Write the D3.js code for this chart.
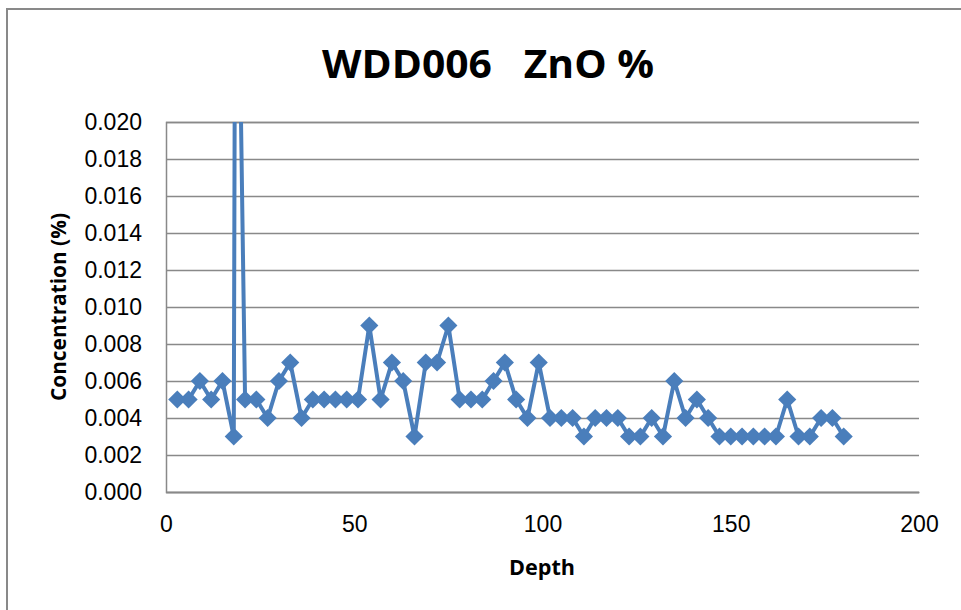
<!DOCTYPE html>
<html>
<head>
<meta charset="utf-8">
<script src="https://cdn.jsdelivr.net/npm/d3@7"></script>
<style>
  body { margin: 0; background: #fff; }
  svg { display: block; font-family: "Open Sans", "Noto Sans", sans-serif; }
</style>
</head>
<body>
<svg id="chart" width="961" height="610"></svg>
<script>
// depth (m) of each sample
const depths = [3, 6, 9, 12, 15, 18, 18.5, 21, 24, 27, 30, 33, 36, 39, 42, 45, 48, 51, 54, 57,
  60, 63, 66, 69, 72, 75, 78, 81, 84, 87, 90, 93, 96, 99, 102, 105, 108, 111, 114, 117,
  120, 123, 126, 129, 132, 135, 138, 141, 144, 147, 150, 153, 156, 159, 162, 165, 168, 171,
  174, 177, 180];
// ZnO concentration (%); the 18.5 m sample goes off the top of the axis
const zno = [0.005, 0.005, 0.006, 0.005, 0.006, 0.003, 0.040, 0.005, 0.005, 0.004, 0.006, 0.007,
  0.004, 0.005, 0.005, 0.005, 0.005, 0.005, 0.009, 0.005, 0.007, 0.006, 0.003, 0.007, 0.007,
  0.009, 0.005, 0.005, 0.005, 0.006, 0.007, 0.005, 0.004, 0.007, 0.004, 0.004, 0.004, 0.003,
  0.004, 0.004, 0.004, 0.003, 0.003, 0.004, 0.003, 0.006, 0.004, 0.005, 0.004, 0.003, 0.003,
  0.003, 0.003, 0.003, 0.003, 0.005, 0.003, 0.003, 0.004, 0.004, 0.003];
const xTicks = [0, 50, 100, 150, 200];
const yTicks = [0, 0.002, 0.004, 0.006, 0.008, 0.010, 0.012, 0.014, 0.016, 0.018, 0.020];

const svg = d3.select("#chart");
const plot = { left: 166, right: 919, top: 122, bottom: 492 };
const blue = "#4a7ebb";
const grey = "#898989";

const x = d3.scaleLinear().domain([0, 200]).range([plot.left, plot.right]);
const y = d3.scaleLinear().domain([0, 0.020]).range([plot.bottom, plot.top]);

// chart area frame (only the top and left edges are in view)
svg.append("path")
  .attr("d", "M7,610V9H961")
  .attr("fill", "none")
  .attr("stroke", grey)
  .attr("stroke-width", 2);

// gridlines + y labels
const yAxis = d3.axisLeft(y)
  .tickValues(yTicks)
  .tickSize(-(plot.right - plot.left))
  .tickPadding(24)
  .tickFormat(d3.format(".3f"));

svg.append("g")
  .attr("transform", `translate(${plot.left},0)`)
  .call(yAxis)
  .call(g => g.select(".domain").attr("stroke", grey).attr("stroke-width", 1.5))
  .call(g => g.selectAll(".tick line").attr("stroke", grey).attr("stroke-width", 1.3))
  .call(g => g.selectAll(".tick text")
    .attr("fill", "#000")
    .style("font-size", "23px"));

// x axis
const xAxis = d3.axisBottom(x)
  .tickValues(xTicks)
  .tickSize(0)
  .tickPadding(24);

svg.append("g")
  .attr("transform", `translate(0,${plot.bottom})`)
  .call(xAxis)
  .call(g => g.select(".domain").attr("stroke", grey).attr("stroke-width", 1.5))
  .call(g => g.selectAll(".tick text")
    .attr("fill", "#000")
    .style("font-size", "23px"));

// series, clipped to the plot area like the spreadsheet does
svg.append("clipPath").attr("id", "clip")
  .append("rect")
  .attr("x", plot.left - 12).attr("y", plot.top)
  .attr("width", plot.right - plot.left + 24).attr("height", plot.bottom - plot.top + 12);

const pts = depths.map((d, i) => [d, zno[i]]);
const series = svg.append("g").attr("clip-path", "url(#clip)");

series.append("path")
  .datum(pts)
  .attr("fill", "none")
  .attr("stroke", blue)
  .attr("stroke-width", 4)
  .attr("stroke-linejoin", "round")
  .attr("d", d3.line().x(d => x(d[0])).y(d => y(d[1])));

const diamond = d3.symbol(d3.symbolSquare, 165);
series.selectAll(".pt")
  .data(pts)
  .join("path")
  .attr("class", "pt")
  .attr("d", diamond)
  .attr("fill", blue)
  .attr("transform", d => `translate(${x(d[0])},${y(d[1])}) rotate(45)`);

// titles
svg.append("text")
  .attr("x", 488).attr("y", 78)
  .attr("text-anchor", "middle")
  .attr("font-weight", "bold")
  .style("font-size", "40px")
  .style("white-space", "pre")
  .attr("textLength", 332)
  .attr("lengthAdjust", "spacingAndGlyphs")
  .text("WDD006   ZnO %");

svg.append("text")
  .attr("transform", "translate(66,307) rotate(-90)")
  .attr("text-anchor", "middle")
  .attr("font-weight", "bold")
  .style("font-size", "21px")
  .attr("textLength", 188)
  .attr("lengthAdjust", "spacingAndGlyphs")
  .text("Concentration (%)");

svg.append("text")
  .attr("x", 542).attr("y", 575)
  .attr("text-anchor", "middle")
  .attr("font-weight", "bold")
  .style("font-size", "21px")
  .attr("textLength", 66)
  .attr("lengthAdjust", "spacingAndGlyphs")
  .text("Depth");
</script>
</body>
</html>
